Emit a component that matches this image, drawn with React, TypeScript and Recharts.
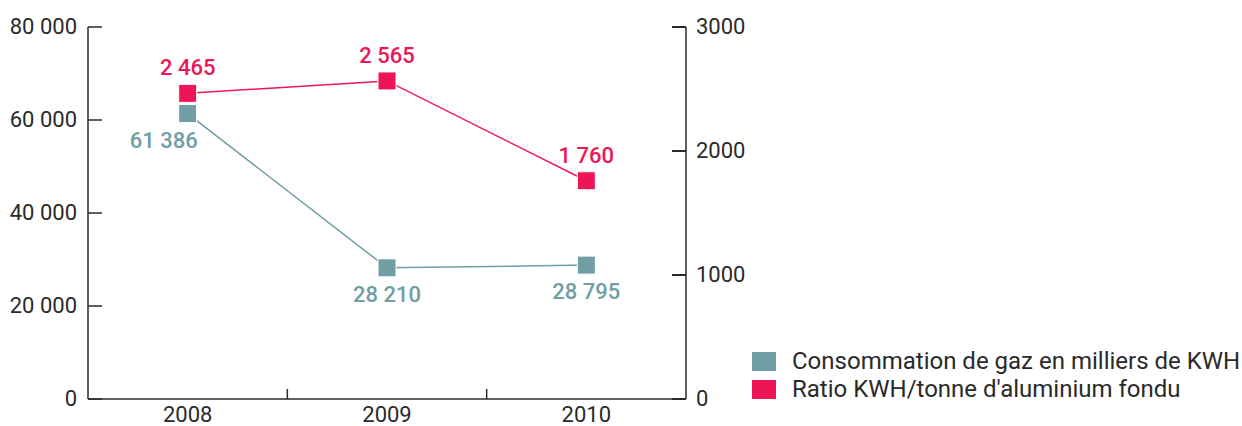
import { ComposedChart, LabelList, Line, XAxis, YAxis } from 'recharts'

const years = ['2008', '2009', '2010']
const gasConsumption = [61386, 28210, 28795]
const kwhPerTonne = [2465, 2565, 1760]
const leftTicks = [0, 20000, 40000, 60000, 80000]
const rightTicks = [0, 1000, 2000, 3000]
const gasLabel = 'Consommation de gaz en milliers de KWH'
const ratioLabel = "Ratio KWH/tonne d'aluminium fondu"

const TEAL = '#709ea4'
const PINK = '#ee1556'
const INK = '#2a2a2a'
const FONT = 'Roboto, "DejaVu Sans", sans-serif'

const W = 1242
const H = 426
const margin = { top: 27, right: 496, bottom: 0, left: 0 }
const LEFT_AXIS_W = 88
const RIGHT_AXIS_W = 60
const PLOT_W = W - margin.left - margin.right - LEFT_AXIS_W - RIGHT_AXIS_W

const data = years.map((year, i) => ({ year, gas: gasConsumption[i], ratio: kwhPerTonne[i] }))

const legendItems = [
  { name: gasLabel, color: TEAL },
  { name: ratioLabel, color: PINK },
]

const spaced = (v: number) => String(v).replace(/\B(?=(\d{3})+(?!\d))/g, ' ')

function LeftTick({ x, y, payload }: any) {
  return (
    <g>
      <line x1={x} x2={x + 14} y1={y} y2={y} stroke={INK} strokeWidth={1.5} />
      <text x={x - 11} y={y} dy={7} textAnchor="end" fill={INK} fontSize={22} fontFamily={FONT}>
        {spaced(payload.value)}
      </text>
    </g>
  )
}

function RightTick({ x, y, payload }: any) {
  return (
    <g>
      <line x1={x - 14} x2={x} y1={y} y2={y} stroke={INK} strokeWidth={2} />
      <text x={x + 10} y={y} dy={7} textAnchor="start" fill={INK} fontSize={22} fontFamily={FONT}>
        {String(payload.value)}
      </text>
    </g>
  )
}

function YearTick({ x, y, payload, index }: any) {
  const band = PLOT_W / years.length
  return (
    <g>
      {index < years.length - 1 && (
        <line x1={x + band / 2} x2={x + band / 2} y1={y} y2={y - 10} stroke={INK} strokeWidth={1.5} />
      )}
      <text x={x} y={y + 23} textAnchor="middle" fill={INK} fontSize={22} fontFamily={FONT}>
        {payload.value}
      </text>
    </g>
  )
}

const squareDot = (color: string) => (p: any) => (
  <rect key={`${color}-${p.index}`} x={p.cx - 9} y={p.cy - 9} width={18} height={18} fill={color} stroke="#fff" strokeWidth={1} />
)

// first teal label is nudged left so it clears the pink line
const valueLabel = (color: string, dy: number, firstDx = 0) => (p: any) => {
  const x = p.x ?? p.viewBox?.x
  const y = p.y ?? p.viewBox?.y
  const dx = p.index === 0 ? firstDx : 0
  return (
    <text x={x + dx} y={y + dy} textAnchor="middle" fill={color} fontSize={22} fontWeight={500} fontFamily={FONT}>
      {spaced(Number(p.value))}
    </text>
  )
}

export default function App() {
  return (
    <div style={{ position: 'absolute', left: 0, top: 0, width: W, height: H, background: '#fff' }}>
      <ComposedChart width={W} height={H} data={data} margin={margin}>
        <XAxis
          dataKey="year"
          scale="band"
          height={27}
          axisLine={{ stroke: INK, strokeWidth: 1.5 }}
          tickLine={false}
          tickSize={0}
          tickMargin={0}
          tick={<YearTick />}
          interval={0}
        />
        <YAxis
          yAxisId="left"
          width={LEFT_AXIS_W}
          domain={[0, 80000]}
          ticks={leftTicks}
          axisLine={{ stroke: INK, strokeWidth: 1.5 }}
          tickLine={false}
          tickSize={0}
          tickMargin={0}
          tick={<LeftTick />}
          interval={0}
        />
        <YAxis
          yAxisId="right"
          orientation="right"
          width={RIGHT_AXIS_W}
          domain={[0, 3000]}
          ticks={rightTicks}
          axisLine={{ stroke: INK, strokeWidth: 1.5 }}
          tickLine={false}
          tickSize={0}
          tickMargin={0}
          tick={<RightTick />}
          interval={0}
        />
        <Line
          yAxisId="left"
          dataKey="gas"
          name={gasLabel}
          stroke={TEAL}
          strokeWidth={1.5}
          dot={squareDot(TEAL)}
          activeDot={false}
          isAnimationActive={false}
        >
          <LabelList dataKey="gas" content={valueLabel(TEAL, 34, -24)} />
        </Line>
        <Line
          yAxisId="right"
          dataKey="ratio"
          name={ratioLabel}
          stroke={PINK}
          strokeWidth={1.5}
          dot={squareDot(PINK)}
          activeDot={false}
          isAnimationActive={false}
        >
          <LabelList dataKey="ratio" content={valueLabel(PINK, -18)} />
        </Line>
      </ComposedChart>
      <div
        style={{
          position: 'absolute',
          left: 752,
          top: 347,
          fontFamily: FONT,
          fontSize: 24,
          color: INK,
          lineHeight: '28px',
          whiteSpace: 'nowrap',
        }}
      >
        {legendItems.map((e) => (
          <div key={e.name} style={{ display: 'flex', alignItems: 'center' }}>
            <span style={{ display: 'inline-block', width: 24, height: 19, background: e.color, marginRight: 16 }} />
            {e.name}
          </div>
        ))}
      </div>
    </div>
  )
}
